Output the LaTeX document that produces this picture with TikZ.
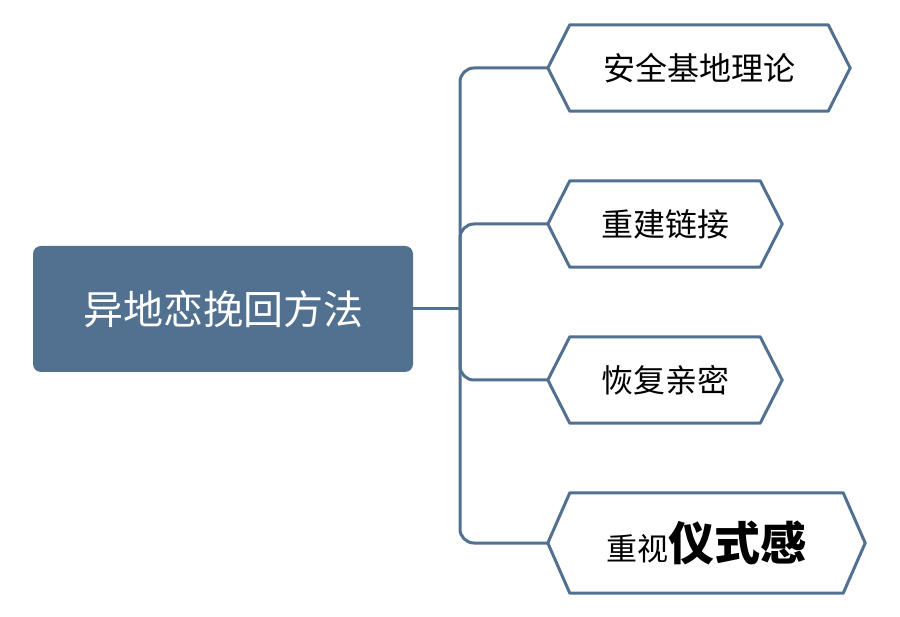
\documentclass[tikz,border=0pt]{standalone}
\usepackage{fontspec}
\setmainfont{Noto Sans CJK SC}
\definecolor{steel}{HTML}{52708F}
\begin{document}
\begin{tikzpicture}[x=1pt,y=-1pt,
  mainbox/.style={fill=steel,rounded corners=8pt,minimum width=380pt,minimum height=126pt,text=white,font=\fontsize{40}{40}\selectfont},
  hexbox/.style={minimum height=86pt,font=\fontsize{32}{32}\selectfont,inner sep=0pt},
  hexline/.style={draw=steel,line width=3pt,fill=white,line join=round},
  conn/.style={draw=steel,line width=3pt,rounded corners=14pt}]
\useasboundingbox (0,0) rectangle (900,617);
\fill[white] (0,0) rectangle (900,617);
\coordinate (j) at (460,309);
\coordinate (pa) at (699,68);
\coordinate (pb) at (665,224);
\coordinate (pc) at (665,380);
\coordinate (pd) at (706.5,543);
\node[mainbox] (m) at (223,309) {异地恋挽回方法};
\node[hexbox,minimum width=302pt] (a) at (pa) {};
\node[hexbox,minimum width=234pt] (b) at (pb) {};
\node[hexbox,minimum width=234pt] (c) at (pc) {};
\node[hexbox,minimum width=317pt,minimum height=100pt] (d) at (pd) {};
\draw[conn] (m.east) -- (j);
\draw[conn] (j) |- (a.west);
\draw[conn] (j) |- (b.west);
\draw[conn] (j) |- (c.west);
\draw[conn] (j) |- (d.west);
\foreach \n in {a,b,c,d} {
  \draw[hexline] (\n.west) -- ([xshift=22pt]\n.north west) -- ([xshift=-22pt]\n.north east) -- (\n.east) -- ([xshift=-22pt]\n.south east) -- ([xshift=22pt]\n.south west) -- cycle;
}
\node[hexbox] (ta) at (a) {安全基地理论};
\node[hexbox] (tb) at (b) {重建链接};
\node[hexbox] (tc) at (c) {恢复亲密};
\node[hexbox] (td) at (d) {\fontsize{31}{31}\selectfont 重视\fontsize{46}{46}\selectfont\textbf{仪式感}};
\end{tikzpicture}
\end{document}
